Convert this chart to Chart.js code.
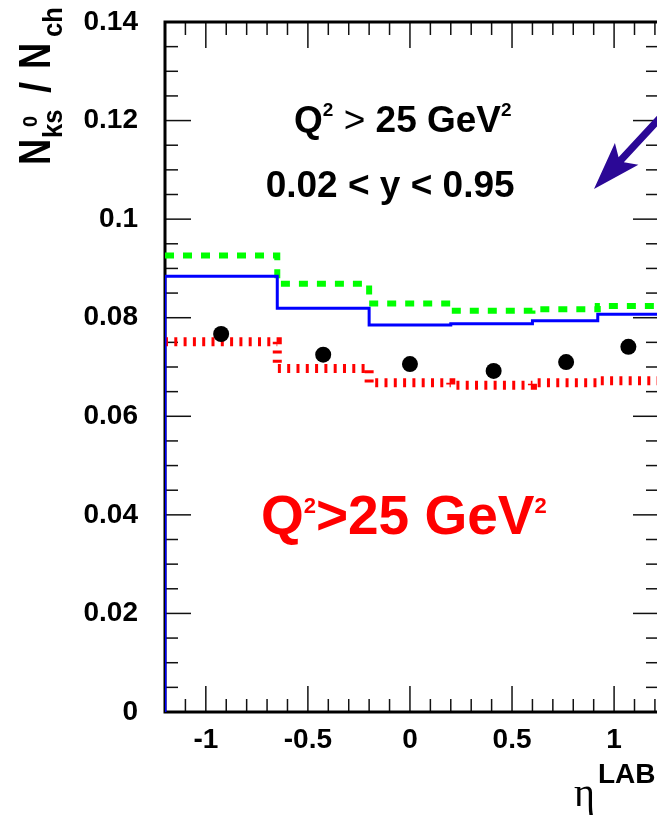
<!DOCTYPE html>
<html><head><meta charset="utf-8">
<script src="https://cdn.jsdelivr.net/npm/chart.js@4.4.0/dist/chart.umd.min.js"></script>
<style>html,body{margin:0;padding:0;overflow:hidden;background:#fff;width:657px;height:823px}canvas{display:block}</style>
</head><body>
<canvas id="c" width="680" height="823" style="width:680px;height:823px"></canvas>
<script>
// ---- data ----
const binEdges   = [-1.2, -0.65, -0.2, 0.2, 0.6, 0.92, 1.22];
const blueVals   = [0.0884, 0.0819, 0.0785, 0.0788, 0.0794, 0.0807];
const greenVals  = [0.0926, 0.0869, 0.0829, 0.0814, 0.0817, 0.0824];
const redVals    = [0.0751, 0.0697, 0.0668, 0.0663, 0.0668, 0.0672];
const dataEta    = [-0.925, -0.425, 0.0, 0.41, 0.765, 1.07];
const dataRatio  = [0.0767, 0.0725, 0.0706, 0.0692, 0.0710, 0.0741];
const xTickLabels = [-1, -0.5, 0, 0.5, 1];
const yTickLabels = [0, 0.02, 0.04, 0.06, 0.08, 0.1, 0.12, 0.14];

const SANS = '"Liberation Sans", Arial, Helvetica, sans-serif';

function histPoints(edges, vals, fromZero) {
  const pts = [];
  if (fromZero) pts.push({x: edges[0], y: 0});
  vals.forEach((v, i) => pts.push({x: edges[i], y: v}));
  pts.push({x: edges[edges.length - 1], y: vals[vals.length - 1]});
  return pts;
}

function seg(ctx, x1, y1, x2, y2) { ctx.beginPath(); ctx.moveTo(x1, y1); ctx.lineTo(x2, y2); ctx.stroke(); }

const framePlugin = {
  id: 'frame',
  beforeDatasetsDraw(chart) {
    const {ctx, chartArea: a, scales: {x, y}} = chart;
    ctx.save();
    ctx.strokeStyle = '#111'; ctx.lineWidth = 1.5;
    for (let i = 1; i < 28; i++) {
      const py = y.getPixelForValue(i * 0.005);
      const L = (i % 4 === 0) ? 26 : 13;
      seg(ctx, a.left, py, a.left + L, py);
      seg(ctx, a.right, py, a.right - L, py);
    }
    for (let i = -11; i <= 12; i++) {
      const px = x.getPixelForValue(i / 10);
      if (px >= a.right - 1) continue;
      const L = (i % 5 === 0) ? 26 : 13;
      seg(ctx, px, a.bottom, px, a.bottom - L);
      seg(ctx, px, a.top, px, a.top + L);
    }
    ctx.strokeStyle = '#000'; ctx.lineWidth = 3;
    ctx.strokeRect(a.left, a.top, a.right - a.left, a.bottom - a.top);
    ctx.restore();
  }
};

function richText(ctx, parts, cx, baseline) {
  let w = 0;
  parts.forEach(p => { ctx.font = p.font; p.w = ctx.measureText(p.t).width; w += p.w; });
  let xx = cx - w / 2;
  parts.forEach(p => { ctx.font = p.font; ctx.fillText(p.t, xx, baseline + (p.dy || 0)); xx += p.w; });
}

function squeezed(ctx, t, font, x0, y0, sx) {
  ctx.save(); ctx.translate(x0, y0); ctx.scale(sx, 1); ctx.font = font; ctx.fillText(t, 0, 0); ctx.restore();
}

const overlayPlugin = {
  id: 'overlay',
  afterDraw(chart) {
    const {ctx, scales: {x, y}} = chart;
    ctx.save();
    ctx.textAlign = 'left'; ctx.textBaseline = 'alphabetic';
    // black annotation text
    ctx.fillStyle = '#000';
    const B37 = 'bold 37px ' + SANS, S18 = 'bold 19px ' + SANS;
    richText(ctx, [
      {t: 'Q', font: B37}, {t: '2', font: S18, dy: -16}, {t: ' ', font: B37},
      {t: '>', font: '37px ' + SANS}, {t: ' 25 GeV', font: B37}, {t: '2', font: S18, dy: -16}
    ], x.getPixelForValue(-0.035), y.getPixelForValue(0.1177));
    richText(ctx, [{t: '0.02 < y < 0.95', font: B37}], x.getPixelForValue(-0.097), y.getPixelForValue(0.1045));
    // red text
    ctx.fillStyle = '#ff0000';
    const B54 = 'bold 55px ' + SANS, S21 = 'bold 22px ' + SANS;
    richText(ctx, [
      {t: 'Q', font: B54}, {t: '2', font: S21, dy: -21}, {t: '>25 GeV', font: B54}, {t: '2', font: S21, dy: -21}
    ], x.getPixelForValue(-0.03), y.getPixelForValue(0.0362));
    // arrow
    const tipX = x.getPixelForValue(0.9016), tipY = y.getPixelForValue(0.1061);
    const tailX = x.getPixelForValue(1.28), tailY = y.getPixelForValue(0.1230);
    const dx = tailX - tipX, dy = tailY - tipY, len = Math.hypot(dx, dy);
    const ux = dx / len, uy = dy / len, nx = -uy, ny = ux;
    const hl = 48, hw = 16, sw = 3.6;
    ctx.fillStyle = '#2b0896';
    ctx.beginPath();
    ctx.moveTo(tipX, tipY);
    ctx.lineTo(tipX + ux * hl + nx * hw, tipY + uy * hl + ny * hw);
    ctx.lineTo(tipX + ux * (hl - 8) + nx * sw, tipY + uy * (hl - 8) + ny * sw);
    ctx.lineTo(tailX + nx * sw, tailY + ny * sw);
    ctx.lineTo(tailX - nx * sw, tailY - ny * sw);
    ctx.lineTo(tipX + ux * (hl - 8) - nx * sw, tipY + uy * (hl - 8) - ny * sw);
    ctx.lineTo(tipX + ux * hl - nx * hw, tipY + uy * hl - ny * hw);
    ctx.closePath(); ctx.fill();
    // y axis title (rotated)
    ctx.fillStyle = '#000';
    ctx.save();
    ctx.translate(50, 163);
    ctx.rotate(-Math.PI / 2);
    squeezed(ctx, 'N', 'bold 44px ' + SANS, -2, 0, 0.82);
    squeezed(ctx, 'ks', 'bold 27px ' + SANS, 25, 12, 0.95);
    squeezed(ctx, '0', 'bold 21px ' + SANS, 36, -13, 0.95);
    squeezed(ctx, '/', 'bold 42px ' + SANS, 70, 0, 0.95);
    squeezed(ctx, 'N', 'bold 44px ' + SANS, 94, 0, 0.82);
    squeezed(ctx, 'ch', 'bold 27px ' + SANS, 126, 12, 0.95);
    ctx.restore();
    // x axis title
    ctx.font = '40px "Liberation Serif", "DejaVu Serif", serif';
    ctx.fillText('\u03b7', 574, 806);
    ctx.font = 'bold 28px ' + SANS;
    ctx.fillText('LAB', 598, 783);
    ctx.restore();
  }
};

const tickFont = {family: SANS, weight: 'bold', size: 28};

new Chart(document.getElementById('c'), {
  type: 'line',
  data: {
    datasets: [
      {data: dataEta.map((v, i) => ({x: v, y: dataRatio[i]})), showLine: false,
       pointRadius: 8, pointBackgroundColor: '#000', pointBorderWidth: 0, pointStyle: 'circle'},
      {data: histPoints(binEdges, blueVals, true), borderColor: '#0000ff', borderWidth: 3,
       stepped: true, pointRadius: 0, fill: false},
      {data: histPoints(binEdges, greenVals, false), borderColor: '#00ff00', borderWidth: 6,
       borderDash: [9, 9], stepped: true, pointRadius: 0, fill: false, borderCapStyle: 'butt'},
      {data: histPoints(binEdges, redVals, false), borderColor: '#ff0000', borderWidth: 9,
       borderDash: [3, 6.3], stepped: true, pointRadius: 0, fill: false, borderCapStyle: 'butt'}
    ]
  },
  options: {
    responsive: false, animation: false, devicePixelRatio: 1,
    layout: {padding: {left: 0, right: 21, top: 22, bottom: 0}},
    plugins: {legend: {display: false}, tooltip: {enabled: false}},
    scales: {
      x: {
        type: 'linear', min: -1.2, max: 1.22,
        grid: {display: false, drawTicks: false, tickLength: 0}, border: {display: false},
        ticks: {font: tickFont, color: '#000', padding: 11, maxRotation: 0, autoSkip: false, callback: v => String(v)},
        afterBuildTicks: s => { s.ticks = xTickLabels.map(v => ({value: v})); },
        afterFit: s => { s.height = 111; s.paddingLeft = 0; s.paddingRight = 0; }
      },
      y: {
        type: 'linear', min: 0, max: 0.14,
        grid: {display: false, drawTicks: false, tickLength: 0}, border: {display: false},
        ticks: {font: tickFont, color: '#000', padding: 27, autoSkip: false, callback: v => String(v)},
        afterBuildTicks: s => { s.ticks = yTickLabels.map(v => ({value: v})); },
        afterFit: s => { s.width = 165; s.paddingTop = 0; s.paddingBottom = 0; }
      }
    }
  },
  plugins: [framePlugin, overlayPlugin]
});
</script>
</body></html>
